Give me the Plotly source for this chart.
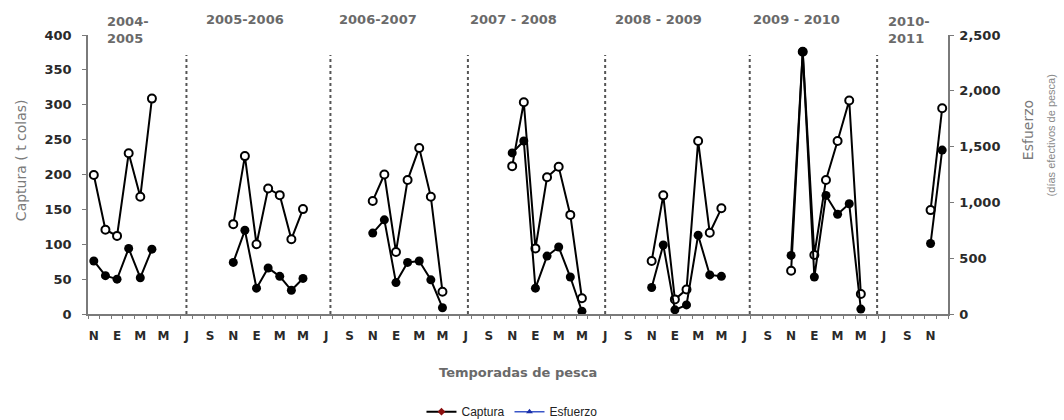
import plotly.graph_objects as go

# ---------------- data ----------------
# month initials (Spanish), starting November 2004, monthly categories
iniciales = ["N", "D", "E", "F", "M", "A", "M", "J", "J", "A", "S", "O"]
n_meses = 74  # Nov 2004 .. Dec 2010

temporadas = ["2004-<br>2005", "2005-2006", "2006-2007", "2007 - 2008",
              "2008 - 2009", "2009 - 2010", "2010-<br>2011"]
inicio_temporada = [0, 12, 24, 36, 48, 60, 72]  # November of each season

captura_2004_05 = [76, 55, 50, 94, 52, 93]
captura_2005_06 = [74, 120, 37, 66, 54, 34, 51]
captura_2006_07 = [116, 135, 45, 74, 76, 49, 9]
captura_2007_08 = [231, 248, 37, 83, 96, 53, 4]
captura_2008_09 = [38, 99, 6, 13, 113, 56, 54]
captura_2009_10 = [84, 376, 53, 170, 143, 158, 7]
captura_2010_11 = [101, 235]

esfuerzo_2004_05 = [1245, 755, 700, 1440, 1050, 1930]
esfuerzo_2005_06 = [805, 1415, 625, 1125, 1065, 670, 940]
esfuerzo_2006_07 = [1013, 1250, 556, 1200, 1488, 1050, 200]
esfuerzo_2007_08 = [1325, 1897, 588, 1225, 1319, 888, 141]
esfuerzo_2008_09 = [475, 1063, 131, 219, 1550, 728, 947]
esfuerzo_2009_10 = [388, 2350, 529, 1200, 1550, 1913, 179]
esfuerzo_2010_11 = [931, 1844]

capturas = [captura_2004_05, captura_2005_06, captura_2006_07, captura_2007_08,
            captura_2008_09, captura_2009_10, captura_2010_11]
esfuerzos = [esfuerzo_2004_05, esfuerzo_2005_06, esfuerzo_2006_07, esfuerzo_2007_08,
             esfuerzo_2008_09, esfuerzo_2009_10, esfuerzo_2010_11]

# season separators (dotted lines), in month-index units
separadores = [7.97, 20.36, 32.19, 44.0, 56.44, 67.4]

# ---------------- build series ----------------
xs, yc, ye = [], [], []
for ini, c, e in zip(inicio_temporada, capturas, esfuerzos):
    xs += [ini + i for i in range(len(c))] + [None]
    yc += c + [None]
    ye += e + [None]

etiquetas = [iniciales[i % 12] for i in range(n_meses)]
tickvals = list(range(0, n_meses, 2))
ticktext = ["<b>" + etiquetas[i] + "</b>" for i in tickvals]

XR = [-0.5, n_meses - 0.5]
AXC = "#7a7a7a"
FONT = "DejaVu Sans"

fig = go.Figure()

fig.add_trace(go.Scatter(
    x=xs, y=ye, yaxis="y", mode="lines+markers", showlegend=False,
    line=dict(color="black", width=2),
    marker=dict(symbol="circle", size=8, color="white", line=dict(color="black", width=2)),
    connectgaps=False,
))
fig.add_trace(go.Scatter(
    x=xs, y=yc, yaxis="y2", mode="lines+markers", showlegend=False,
    line=dict(color="black", width=2),
    marker=dict(symbol="circle", size=9, color="black"),
    connectgaps=False,
))
# legend entries
fig.add_trace(go.Scatter(
    x=[None], y=[None], name="Captura", mode="lines+markers",
    line=dict(color="black", width=2),
    marker=dict(symbol="diamond", size=6, color="#8b1010"),
))
fig.add_trace(go.Scatter(
    x=[None], y=[None], name="Esfuerzo", mode="lines+markers",
    line=dict(color="#3a56c8", width=1.5),
    marker=dict(symbol="triangle-up", size=6, color="#1a2fa8"),
))

shapes = []
for s in separadores:
    shapes.append(dict(type="line", xref="x", yref="paper", x0=s, x1=s,
                       y0=0, y1=0.928, line=dict(color="#555", width=2, dash="dot")))

annotations = []
season_x = [1.0, 13.0, 24.45, 36.1, 48.6, 60.5, 68.2]
for i, (t, sx) in enumerate(zip(temporadas, season_x)):
    two = "<br>" in t
    annotations.append(dict(
        x=sx, xref="x", y=1.083 if two else 1.057, yref="paper",
        xanchor="left" if two else "center", yanchor="top" if two else "middle",
        text="<b>" + t + "</b>", showarrow=False, align="left",
        font=dict(family=FONT, size=13, color="#6a6a6a"),
    ))
annotations.append(dict(
    x=-0.09, y=0.55, xref="paper", yref="paper", text="Captura ( t colas)",
    textangle=-90, showarrow=False, font=dict(family=FONT, size=14, color="#7a7a7a")))
annotations.append(dict(
    x=1.105, y=0.66, xref="paper", yref="paper", text="Esfuerzo",
    textangle=-90, showarrow=False, font=dict(family=FONT, size=14, color="#7a7a7a")))
annotations.append(dict(
    x=1.129, y=0.64, xref="paper", yref="paper", text="(días efectivos de pesca)",
    textangle=-90, showarrow=False, font=dict(family="Liberation Sans", size=11, color="#8a8a8a")))
annotations.append(dict(
    x=0.5, y=-0.245, xref="paper", yref="paper", text="<b>Temporadas de pesca</b>",
    showarrow=False, font=dict(family=FONT, size=13, color="#6a6a6a")))

tickfont = dict(family=FONT, size=13, color="#2a2a2a", weight="bold")

fig.update_layout(
    width=1064, height=420,
    margin=dict(l=88, r=116, t=35, b=106, autoexpand=False),
    paper_bgcolor="white", plot_bgcolor="white",
    showlegend=True,
    legend=dict(orientation="h", x=0.493, xanchor="center", y=-0.35, yanchor="middle",
                font=dict(family="Liberation Sans", size=12, color="#222"),
                itemwidth=30, bgcolor="rgba(0,0,0,0)"),
    xaxis=dict(range=XR, tickmode="array", tickvals=tickvals, ticktext=ticktext,
               ticks="", showgrid=False, zeroline=False, showline=True, automargin=False,
               linecolor=AXC, linewidth=1.5, tickfont=dict(family=FONT, size=12, color="#2a2a2a"),
               ticklabelstandoff=10,
               minor=dict(tickmode="linear", tick0=0.5, dtick=1, ticks="outside",
                          ticklen=3, tickcolor=AXC, tickwidth=1)),
    xaxis2=dict(range=XR, overlaying="x", showticklabels=False, showgrid=False,
                zeroline=False, showline=False, ticks="", tickmode="array", tickvals=[],
                minor=dict(tickmode="linear", tick0=0.5, dtick=1, ticks="inside",
                           ticklen=3, tickcolor=AXC, tickwidth=1)),
    yaxis=dict(range=[0, 2500], side="right", tickmode="linear", tick0=0, dtick=500,
               tickformat=",d", ticks="outside", ticklen=4, tickcolor=AXC, automargin=False,
               showgrid=False, zeroline=False, showline=True, linecolor=AXC,
               linewidth=1.5, tickfont=tickfont, ticklabelstandoff=3),
    yaxis2=dict(range=[0, 400], side="left", overlaying="y", tickmode="linear",
                tick0=0, dtick=50, ticks="outside", ticklen=4, tickcolor=AXC, automargin=False,
                showgrid=False, zeroline=False, showline=True, linecolor=AXC,
                linewidth=1.5, tickfont=tickfont, ticklabelstandoff=8),
    yaxis3=dict(range=[0, 400], side="left", overlaying="y", tickmode="linear",
                tick0=0, dtick=50, ticks="inside", ticklen=4, tickcolor=AXC,
                showticklabels=False, showgrid=False, zeroline=False, showline=False),
    yaxis4=dict(range=[0, 2500], side="right", overlaying="y", tickmode="linear",
                tick0=0, dtick=500, ticks="inside", ticklen=4, tickcolor=AXC,
                showticklabels=False, showgrid=False, zeroline=False, showline=False),
    shapes=shapes,
    annotations=annotations,
)

fig.write_html("out.html", config={"displayModeBar": False},
               post_script="document.body.style.margin='0';document.body.style.overflow='hidden';")
